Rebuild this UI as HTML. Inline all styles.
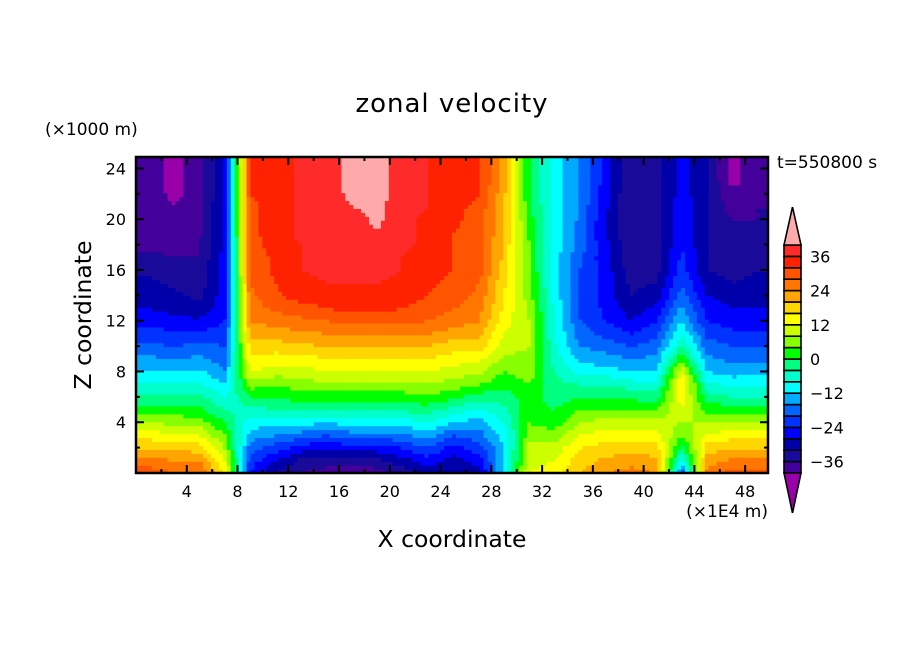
<!DOCTYPE html>
<html><head><meta charset="utf-8"><style>
body{margin:0;background:#fff;}
svg{display:block;font-family:"DejaVu Sans","Liberation Sans",sans-serif;}
</style></head><body>
<svg id="chart" width="904" height="654" viewBox="0 0 904 654" xmlns="http://www.w3.org/2000/svg">
<rect width="904" height="654" fill="#fff"/>
<text x="452" y="112" font-size="26" text-anchor="middle" letter-spacing="1">zonal velocity</text>
<text x="45" y="135" font-size="17">(×1000 m)</text>
<text x="777" y="168" font-size="17">t=550800 s</text>
<text transform="translate(91,315) rotate(-90)" font-size="23.5" text-anchor="middle">Z coordinate</text>
<text x="452" y="547" font-size="23.5" text-anchor="middle">X coordinate</text>
<text x="768" y="517" font-size="17" text-anchor="end">(×1E4 m)</text>
<g id="cells"></g>
<g id="axes"></g>
<g id="cbar"></g>
</svg>
<script>
const xTicks=[4,8,12,16,20,24,28,32,36,40,44,48];
const zTicks=[4,8,12,16,20,24];
const cbarLabels=[36,24,12,0,-12,-24,-36];
const levels=[-40,-36,-32,-28,-24,-20,-16,-12,-8,-4,0,4,8,12,16,20,24,28,32,36,40];
const levelColors=["#9a00aa","#44009a","#1a0a99","#0000aa","#0000ff","#0033ff","#0066ff","#00aaff","#00ffff","#00ffcc","#00ff80","#00ff00","#88ff00","#ccff00","#ffff00","#ffd700","#ffa500","#ff7700","#ff5500","#ff2200","#ff2a2a","#ffaaaa"];
// columns: x = 0,2,...,48 (x1E4 m); values z = 0..24 (x1000 m)
const col0=[30,26,20,14,8,2,-3,-7,-12,-15,-19,-22,-26,-28,-29,-31,-33,-35,-37,-37,-37,-37,-38,-38,-38];
const col1=[28,24,19,13,7,2,-3,-7,-12,-16,-20,-23,-27,-29,-31,-33,-35,-36,-37,-38,-38,-40,-41,-41,-41];
const col2=[28,24,18,12,6,1,-3,-7,-11,-15,-19,-23,-27,-31,-33,-34,-35,-36,-36,-37,-37,-37,-38,-38,-38];
const col3=[16,12,8,4,0,-4,-8,-12,-16,-18,-20,-22,-24,-25,-26,-26,-26,-26,-27,-27,-27,-27,-28,-28,-28];
const col4=[-24,-22,-18,-14,-10,-6,0,6,12,15,18,21,24,26,27,28,29,29,30,31,31,31,32,32,32];
const col5=[-32,-28,-22,-16,-10,-4,0,4,10,14,18,22,26,29,31,32,33,33,34,34,34,34,34,34,34];
const col6=[-36,-33,-26,-18,-10,-4,2,6,10,14,19,23,27,30,34,35,36,36,36,37,37,37,37,37,37];
const col7=[-38,-34,-28,-20,-12,-4,2,7,12,16,20,24,28,32,35,36,37,37,38,38,38,38,38,38,38];
const col8=[-40,-34,-26,-18,-10,-3,2,7,12,16,20,25,29,33,35,36,37,37,38,38,38,40,41,41,41];
const col9=[-38,-33,-26,-18,-10,-3,2,7,12,16,20,25,29,33,35,36,37,38,39,40,41,41,41,41,41];
const col10=[-34,-30,-24,-17,-10,-3,2,7,12,16,20,25,29,32,34,35,36,36,37,37,37,38,39,39,39];
const col11=[-30,-26,-20,-14,-8,-2,3,8,12,16,20,24,28,30,32,33,34,34,35,35,35,36,36,36,36];
const col12=[-32,-30,-26,-20,-12,-6,1,6,10,14,18,22,26,28,30,31,32,32,32,32,33,33,34,34,34];
const col13=[-30,-26,-22,-18,-14,-8,-2,4,9,13,18,21,24,26,27,28,30,30,30,30,30,31,32,33,33];
const col14=[-10,-12,-12,-10,-8,-5,-2,1,4,7,10,12,14,15,16,17,18,19,19,20,20,21,21,22,22];
const col15=[12,11,10,6,4,3,2,4,6,7,8,8,8,7,6,5,4,4,4,3,2,1,0,0,0];
const col16=[14,12,10,6,2,0,-2,-3,-4,-6,-7,-8,-8,-9,-10,-10,-10,-10,-10,-10,-10,-10,-10,-10,-10];
const col17=[20,18,16,12,8,4,0,-4,-10,-13,-16,-18,-20,-20,-20,-20,-20,-19,-18,-18,-17,-17,-16,-16,-16];
const col18=[24,21,18,14,10,4,0,-4,-10,-14,-18,-21,-24,-25,-26,-26,-26,-27,-27,-28,-28,-27,-27,-26,-26];
const col19=[26,22,18,14,10,4,-1,-6,-12,-16,-20,-24,-28,-30,-32,-33,-34,-35,-35,-36,-36,-36,-36,-36,-36];
const col20=[24,21,18,14,10,4,-2,-7,-12,-15,-18,-21,-24,-27,-30,-32,-34,-34,-34,-34,-34,-34,-34,-34,-34];
const col21=[-20,-10,-2,4,8,12,14,16,12,4,-4,-8,-12,-15,-18,-20,-22,-23,-24,-24,-25,-25,-26,-26,-26];
const col22=[26,22,18,13,8,3,-2,-7,-12,-15,-18,-21,-24,-26,-28,-30,-32,-32,-32,-32,-32,-32,-32,-32,-32];
const col23=[30,25,20,14,8,2,-4,-9,-14,-17,-20,-23,-26,-28,-30,-32,-33,-34,-35,-36,-36,-38,-39,-41,-41];
const col24=[30,25,20,14,8,2,-4,-9,-13,-17,-20,-23,-26,-28,-30,-31,-32,-33,-34,-35,-36,-36,-37,-38,-38];
const columns=[col0,col1,col2,col3,col4,col5,col6,col7,col8,col9,col10,col11,col12,col13,col14,col15,col16,col17,col18,col19,col20,col21,col22,col23,col24];

const NS="http://www.w3.org/2000/svg";
const PL=136,PR=768,PT=157,PB=473;
const XMAX=49.8,ZMAX=24.9;
const sx=x=>PL+x/XMAX*(PR-PL);
const sz=z=>PB-z/ZMAX*(PB-PT);
function colorOf(v){let i=0;while(i<levels.length&&v>=levels[i])i++;return levelColors[i];}
function el(tag,attrs,parent){const e=document.createElementNS(NS,tag);for(const k in attrs)e.setAttribute(k,attrs[k]);parent.appendChild(e);return e;}

const cells=document.getElementById('cells');
const nc=columns.length,nz=columns[0].length;
function val(c,z){c=Math.max(0,Math.min(nc-1,c));z=Math.max(0,Math.min(nz-1,z));return columns[c][z];}
function sample(x,z){
  const fc=(x-1)/2, fz=z;
  const c0=Math.floor(fc), z0=Math.floor(fz);
  const tc=fc-c0, tz=fz-z0;
  const a=val(c0,z0),b=val(c0+1,z0),c=val(c0,z0+1),d=val(c0+1,z0+1);
  return a*(1-tc)*(1-tz)+b*tc*(1-tz)+c*(1-tc)*tz+d*tc*tz;
}
const NX=160,NZ=80;
for(let i=0;i<NX;i++){
  const x0=i*XMAX/NX,x1=(i+1)*XMAX/NX;
  for(let j=0;j<NZ;j++){
    const z0=j*ZMAX/NZ,z1=(j+1)*ZMAX/NZ;
    const v=sample((x0+x1)/2,(z0+z1)/2);
    const r=el('rect',{x:sx(x0).toFixed(2),y:sz(z1).toFixed(2),width:(sx(x1)-sx(x0)+0.6).toFixed(2),height:(sz(z0)-sz(z1)+0.6).toFixed(2),fill:colorOf(v)},cells);
    
    
  }
}

const axes=document.getElementById('axes');
el('rect',{x:PL,y:PT,width:PR-PL,height:PB-PT,fill:'none',stroke:'#000','stroke-width':2.5},axes);
for(let x=2;x<XMAX;x+=2){
  const major=x%4===0,len=major?8:4;
  el('line',{x1:sx(x),x2:sx(x),y1:PB,y2:PB-len,stroke:'#000','stroke-width':2},axes);
  el('line',{x1:sx(x),x2:sx(x),y1:PT,y2:PT+len,stroke:'#000','stroke-width':2},axes);
}
for(let z=2;z<ZMAX;z+=2){
  const major=z%4===0,len=major?8:4;
  el('line',{x1:PL,x2:PL+len,y1:sz(z),y2:sz(z),stroke:'#000','stroke-width':2},axes);
  el('line',{x1:PR,x2:PR-len,y1:sz(z),y2:sz(z),stroke:'#000','stroke-width':2},axes);
}
xTicks.forEach(t=>{
  const e=el('text',{x:sx(t),y:PB+24,'font-size':16,'text-anchor':'middle'},axes);
  e.textContent=t;
  
  
});
zTicks.forEach(t=>{
  const e=el('text',{x:PL-10,y:sz(t)+6,'font-size':16,'text-anchor':'end'},axes);
  e.textContent=t;
  
  
});

const cb=document.getElementById('cbar');
const CX0=784,CX1=801,CT=245,CB=473;
const nb=levels.length-1;
const bh=(CB-CT)/nb;
const cy=v=>CT+(levels[nb]-v)/(levels[nb]-levels[0])*(CB-CT);
for(let k=0;k<nb;k++){
  const r=el('rect',{x:CX0,y:cy(levels[k+1]),width:CX1-CX0,height:bh,fill:levelColors[k+1],stroke:'#000','stroke-width':1.6},cb);
  
  
}
const tu=el('polygon',{points:`${CX0},${CT} ${CX1},${CT} ${(CX0+CX1)/2},207`,fill:levelColors[levelColors.length-1],stroke:'#000','stroke-width':1.6},cb);


const td=el('polygon',{points:`${CX0},${CB} ${CX1},${CB} ${(CX0+CX1)/2},513`,fill:levelColors[0],stroke:'#000','stroke-width':1.6},cb);


cbarLabels.forEach(v=>{
  const e=el('text',{x:810,y:cy(v)+6,'font-size':16},cb);
  e.textContent=v<0?'\u2212'+(-v):v;
  
  
});
</script>
</body></html>
